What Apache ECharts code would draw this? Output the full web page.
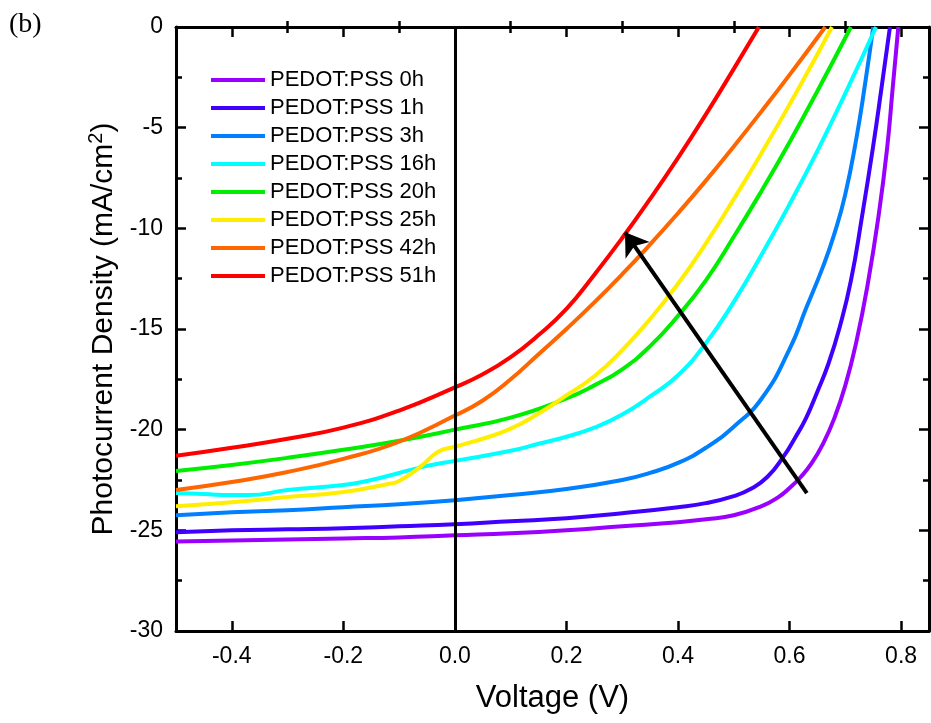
<!DOCTYPE html>
<html>
<head>
<meta charset="utf-8">
<script src="https://cdn.jsdelivr.net/npm/echarts@6/dist/echarts.min.js"></script>
<style>
  html, body { margin: 0; padding: 0; background: #fff; }
  #chart { width: 931px; height: 723px; }
</style>
</head>
<body>
<div id="chart"></div>
<script>
// J–V curves of devices after PEDOT:PSS exposure (voltage in V, current density in mA/cm²)
const seriesNames = ['PEDOT:PSS 0h', 'PEDOT:PSS 1h', 'PEDOT:PSS 3h', 'PEDOT:PSS 16h',
                     'PEDOT:PSS 20h', 'PEDOT:PSS 25h', 'PEDOT:PSS 42h', 'PEDOT:PSS 51h'];
const seriesColors = ['#9900ff', '#4000ff', '#0080ff', '#00ffff',
                      '#00ee00', '#ffee00', '#ff6600', '#ff0000'];

const v0h = [-0.5, -0.4, -0.3, -0.2, -0.1, 0, 0.1, 0.2, 0.3, 0.4, 0.45, 0.5, 0.55, 0.58, 0.6, 0.62, 0.64, 0.66, 0.68, 0.7, 0.72, 0.74, 0.76, 0.775, 0.785, 0.795];
const j0h = [-25.55, -25.5, -25.45, -25.4, -25.35, -25.25, -25.15, -25.0, -24.8, -24.6, -24.45, -24.25, -23.8, -23.35, -22.9, -22.35, -21.65, -20.7, -19.45, -17.8, -15.6, -12.8, -9.3, -6.0, -3.0, 0];

const v1h = [-0.5, -0.4, -0.3, -0.2, -0.1, 0, 0.1, 0.2, 0.3, 0.4, 0.45, 0.5, 0.53, 0.56, 0.59, 0.61, 0.63, 0.65, 0.67, 0.69, 0.71, 0.73, 0.75, 0.765, 0.78];
const j1h = [-25.1, -25.0, -24.95, -24.9, -24.8, -24.7, -24.55, -24.4, -24.15, -23.85, -23.65, -23.3, -22.95, -22.35, -21.3, -20.4, -19.4, -18.1, -16.7, -14.9, -12.6, -9.4, -5.9, -3.0, 0];

const v3h = [-0.5, -0.4, -0.3, -0.2, -0.1, 0, 0.1, 0.2, 0.3, 0.35, 0.4, 0.45, 0.5, 0.55, 0.6, 0.63, 0.66, 0.68, 0.7, 0.72, 0.735, 0.75];
const j3h = [-24.25, -24.1, -24.0, -23.85, -23.7, -23.5, -23.25, -22.95, -22.5, -22.15, -21.65, -20.9, -19.85, -18.45, -16.0, -13.95, -11.9, -10.3, -8.3, -5.5, -2.9, 0];

const v16h = [-0.5, -0.45, -0.4, -0.37, -0.3, -0.2, -0.15, -0.1, -0.05, 0, 0.1, 0.15, 0.2, 0.25, 0.3, 0.35, 0.4, 0.45, 0.5, 0.55, 0.6, 0.65, 0.7, 0.755];
const j16h = [-23.15, -23.2, -23.25, -23.25, -23.0, -22.75, -22.5, -22.15, -21.8, -21.55, -21.05, -20.7, -20.35, -19.9, -19.25, -18.35, -17.3, -15.7, -13.65, -11.3, -8.8, -6.15, -3.3, 0];

const v20h = [-0.5, -0.4, -0.3, -0.2, -0.1, 0, 0.1, 0.2, 0.25, 0.3, 0.35, 0.4, 0.45, 0.5, 0.55, 0.6, 0.65, 0.71];
const j20h = [-22.05, -21.75, -21.4, -21.0, -20.55, -20.0, -19.4, -18.45, -17.8, -17.0, -15.85, -14.35, -12.58, -10.42, -8.13, -5.72, -3.18, 0];

const v25h = [-0.5, -0.4, -0.3, -0.2, -0.12, -0.1, -0.06, -0.03, 0, 0.05, 0.1, 0.15, 0.2, 0.25, 0.3, 0.35, 0.4, 0.45, 0.5, 0.55, 0.6, 0.65, 0.676];
const j25h = [-23.8, -23.6, -23.35, -23.1, -22.7, -22.55, -21.8, -21.1, -20.85, -20.45, -19.95, -19.2, -18.3, -17.35, -16.05, -14.5, -12.75, -10.75, -8.55, -6.25, -3.85, -1.35, 0];

const v42h = [-0.5, -0.4, -0.3, -0.2, -0.1, 0, 0.05, 0.1, 0.15, 0.2, 0.25, 0.3, 0.35, 0.4, 0.45, 0.5, 0.55, 0.6, 0.664];
const j42h = [-23.0, -22.6, -22.1, -21.45, -20.6, -19.3, -18.55, -17.5, -16.25, -15.0, -13.68, -12.28, -10.8, -9.25, -7.63, -5.93, -4.18, -2.38, 0];

const v51h = [-0.5, -0.4, -0.3, -0.2, -0.1, 0, 0.05, 0.1, 0.15, 0.2, 0.25, 0.3, 0.35, 0.4, 0.45, 0.5, 0.545];
const j51h = [-21.3, -20.9, -20.45, -19.9, -19.05, -17.9, -17.25, -16.4, -15.3, -14.0, -12.3, -10.48, -8.54, -6.5, -4.34, -2.08, 0];

const voltages = [v0h, v1h, v3h, v16h, v20h, v25h, v42h, v51h];
const currents = [j0h, j1h, j3h, j16h, j20h, j25h, j42h, j51h];

// trend arrow (tail -> head), in data units
const arrowTail = [0.631, -23.15];
const arrowHead = [0.305, -10.2];

// axis ticks
const xMajorTicks = [-0.4, -0.2, 0, 0.2, 0.4, 0.6, 0.8];
const xMinorTicks = [-0.3, -0.1, 0.1, 0.3, 0.5, 0.7];
const yTickStep = 5;

const FONT = 'Liberation Sans, Arial, sans-serif';
const X_MIN = -0.5, X_MAX = 0.85, Y_MIN = -30, Y_MAX = 0;

function xAxisDef(position, ticks, tickLen, opts) {
  return Object.assign({
    type: 'value', position: position, min: X_MIN, max: X_MAX,
    axisLine: { show: false },
    axisTick: { show: true, inside: true, length: tickLen, customValues: ticks,
                lineStyle: { color: '#000', width: 2.5 } },
    axisLabel: { show: false },
    splitLine: { show: false }
  }, opts || {});
}

function yAxisDef(position, opts) {
  return Object.assign({
    type: 'value', position: position, min: Y_MIN, max: Y_MAX, interval: yTickStep,
    axisLine: { show: true, onZero: false, lineStyle: { color: '#000', width: 3 } },
    axisTick: { show: true, inside: true, length: 10, lineStyle: { color: '#000', width: 2.5 } },
    minorTick: { show: true, splitNumber: 2, length: 6, lineStyle: { color: '#000', width: 2.5 } },
    axisLabel: { show: false },
    splitLine: { show: false }
  }, opts || {});
}

const xAxes = [
  xAxisDef('bottom', xMajorTicks, 10, {
    axisLine: { show: true, onZero: false, lineStyle: { color: '#000', width: 3 } },
    axisLabel: { show: true, customValues: xMajorTicks, margin: 14, color: '#000',
                 fontSize: 23, fontFamily: FONT, formatter: v => v.toFixed(1) },
    name: 'Voltage (V)', nameLocation: 'middle', nameGap: 52,
    nameTextStyle: { fontSize: 31, color: '#000', fontFamily: FONT }
  }),
  xAxisDef('bottom', xMinorTicks, 6),
  xAxisDef('top', xMajorTicks, 10, {
    axisLine: { show: true, onZero: false, lineStyle: { color: '#000', width: 3 } }
  }),
  xAxisDef('top', xMinorTicks, 6)
];

const yAxes = [
  yAxisDef('left', {
    axisLabel: { show: true, margin: 13, color: '#000', fontSize: 23, fontFamily: FONT },
    name: '{a|Photocurrent Density (mA/cm}{s|2}{a|)}',
    nameLocation: 'middle', nameGap: 50,
    nameTextStyle: {
      color: '#000', fontFamily: FONT, fontSize: 30,
      rich: {
        a: { fontSize: 30, fontFamily: FONT, color: '#000', lineHeight: 34 },
        s: { fontSize: 20, fontFamily: FONT, color: '#000', lineHeight: 34, verticalAlign: 'top', padding: [0, 0, 12, 0] }
      }
    }
  }),
  yAxisDef('right')
];

const curveSeries = seriesNames.map((name, i) => ({
  name: name,
  type: 'line',
  xAxisIndex: 0, yAxisIndex: 0,
  data: voltages[i].map((v, k) => [v, currents[i][k]]),
  showSymbol: false, symbol: 'none',
  smooth: 0.5,
  lineStyle: { color: seriesColors[i], width: 4 },
  itemStyle: { color: seriesColors[i] },
  clip: true,
  z: 3
}));

// zero-voltage guide and trend arrow
const overlaySeries = {
  name: 'overlay', type: 'line', xAxisIndex: 0, yAxisIndex: 0, data: [],
  silent: true, z: 4,
  markLine: {
    silent: true, animation: false,
    label: { show: false },
    emphasis: { disabled: true },
    data: [
      [{ coord: [0, Y_MAX], symbol: 'none', lineStyle: { color: '#000', width: 3, type: 'solid' } },
       { coord: [0, Y_MIN], symbol: 'none' }],
      [{ coord: arrowTail, symbol: 'none', lineStyle: { color: '#000', width: 4, type: 'solid' } },
       { coord: arrowHead, symbol: 'arrow', symbolSize: 22 }]
    ]
  }
};

const chart = echarts.init(document.getElementById('chart'), null, { renderer: 'canvas' });
chart.setOption({
  animation: false,
  backgroundColor: '#fff',
  grid: { left: 176, right: 2, top: 27, bottom: 92, containLabel: false },
  xAxis: xAxes,
  yAxis: yAxes,
  legend: {
    orient: 'vertical', left: 206, top: 64,
    data: seriesNames,
    icon: 'rect', itemWidth: 54, itemHeight: 4, itemGap: 6,
    textStyle: { fontSize: 22, fontFamily: FONT, color: '#000', lineHeight: 22 },
    selectedMode: false
  },
  graphic: [{
    type: 'text', left: 9, top: 11,
    style: { text: '(b)', fontSize: 28, fontFamily: 'Liberation Serif, Times New Roman, serif', fill: '#000' }
  }],
  series: curveSeries.concat([overlaySeries])
});
</script>
</body>
</html>
